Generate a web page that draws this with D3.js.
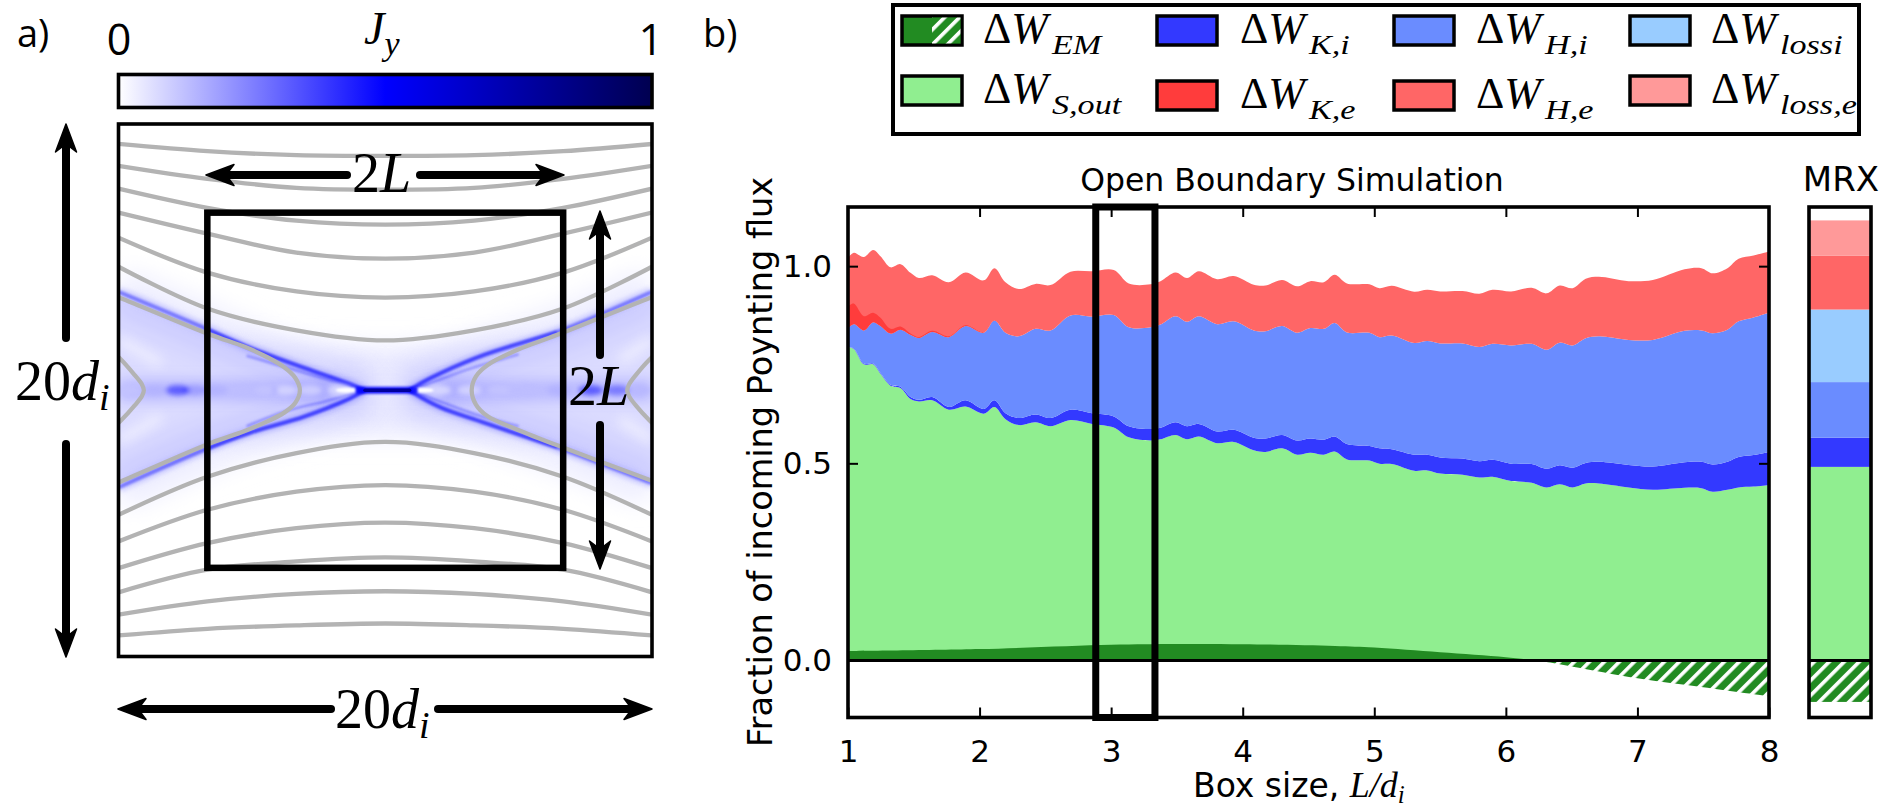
<!DOCTYPE html>
<html>
<head>
<meta charset="utf-8">
<script src="https://cdn.jsdelivr.net/npm/d3@7"></script>
<style>
  body { margin: 0; background: #fff; }
  text { fill: #000; }
  .sans { font-family: "DejaVu Sans"; }
  .label { font-family: "Open Sans"; }
  .math { font-family: "Liberation Serif"; }
</style>
</head>
<body>
<div id="chart"></div>
<script>
// ---- panel b data ----
// stacked boundaries, all on the same box sizes
var boxSize = [1.0,1.044,1.12,1.191,1.247,1.323,1.399,1.475,1.538,1.64,1.766,1.893,2.032,2.113,2.197,2.298,2.425,2.539,2.691,2.855,3.02,3.134,3.299,3.375,3.489,3.577,3.666,3.805,3.932,4.084,4.172,4.299,4.413,4.514,4.616,4.699,4.792,4.963,5.039,5.133,5.303,5.402,5.501,5.671,5.799,5.898,6.04,6.196,6.309,6.409,6.508,6.607,6.706,6.933,7.117,7.358,7.486,7.571,7.684,7.769,7.883,8.0];
var sOutTop = [0.795,0.79,0.751,0.751,0.727,0.697,0.691,0.663,0.657,0.66,0.636,0.644,0.626,0.643,0.612,0.597,0.604,0.594,0.61,0.6,0.591,0.566,0.558,0.561,0.572,0.561,0.568,0.551,0.554,0.533,0.529,0.538,0.522,0.527,0.522,0.53,0.51,0.507,0.499,0.498,0.481,0.482,0.474,0.471,0.464,0.466,0.455,0.451,0.439,0.447,0.439,0.449,0.449,0.439,0.433,0.438,0.437,0.428,0.433,0.439,0.441,0.445];
var kiTop = [0.795,0.791,0.753,0.753,0.729,0.699,0.694,0.668,0.661,0.668,0.643,0.66,0.638,0.66,0.627,0.615,0.624,0.615,0.636,0.627,0.619,0.594,0.587,0.59,0.604,0.594,0.6,0.581,0.585,0.565,0.563,0.572,0.558,0.563,0.56,0.568,0.549,0.544,0.538,0.536,0.522,0.522,0.515,0.512,0.505,0.509,0.499,0.498,0.486,0.495,0.489,0.501,0.504,0.496,0.492,0.503,0.504,0.497,0.504,0.516,0.521,0.529];
var hiTop = [0.843,0.853,0.837,0.858,0.848,0.829,0.839,0.826,0.818,0.833,0.82,0.848,0.831,0.862,0.831,0.822,0.841,0.837,0.875,0.872,0.876,0.845,0.845,0.852,0.873,0.859,0.873,0.853,0.86,0.837,0.835,0.848,0.831,0.843,0.841,0.856,0.832,0.831,0.82,0.824,0.805,0.81,0.804,0.804,0.795,0.803,0.799,0.803,0.788,0.806,0.799,0.817,0.822,0.813,0.813,0.836,0.837,0.83,0.839,0.86,0.87,0.882];
// ke only shows below L = 2.2
var keTop = [0.898,0.905,0.873,0.882,0.869,0.841,0.847,0.829,0.82,0.836,0.822,0.85,0.832,0.863,0.831];
var heTop = [1.021,1.034,1.023,1.041,1.025,0.997,1.005,0.983,0.97,0.977,0.959,0.984,0.964,0.995,0.959,0.942,0.955,0.952,0.986,0.987,0.99,0.956,0.954,0.962,0.984,0.97,0.987,0.967,0.975,0.953,0.951,0.965,0.949,0.962,0.959,0.978,0.956,0.954,0.944,0.95,0.935,0.94,0.936,0.937,0.93,0.94,0.936,0.945,0.931,0.951,0.944,0.968,0.973,0.962,0.965,0.992,0.995,0.982,0.995,1.019,1.027,1.037];

// EM part: positive up to L ~ 6.25, then negative (hatched)
var emPosL = [1,2,3,3.5,4,4.7,5,5.5,6,6.25];
var emPos = [0.024,0.029,0.04,0.042,0.0415,0.037,0.033,0.021,0.0085,0];
var emNegL = [6.25,6.5,7,7.5,8];
var emNeg = [0,-0.015,-0.045,-0.068,-0.091];

// MRX column, layer thicknesses bottom to top
var mrxNames = ["S,out","K,i","H,i","lossi","H,e","loss,e"];
var mrxValues = [0.491,0.074,0.141,0.184,0.137,0.089];
var mrxEm = -0.105;

// legend
var legendSubs = ["EM","S,out","K,i","K,e","H,i","H,e","lossi","loss,e"];
var xTicks = [1,2,3,4,5,6,7,8];
var yTicks = [0,0.5,1];
var boxHighlight = [2.883,3.333];

// ---- panel a data, in units of d_i ----
var fieldX = [-10,-6.67,-3.33,0,3.33,6.67,10];
var fieldLines = [
  [9.25,8.98,8.83,8.8,8.83,8.98,9.25],
  [8.43,7.94,7.6,7.53,7.6,7.94,8.43],
  [7.57,6.85,6.37,6.22,6.37,6.85,7.57],
  [6.67,5.88,5.17,4.94,5.17,5.88,6.67],
  [5.73,4.42,3.71,3.48,3.71,4.42,5.73],
  [4.64,3.07,2.25,1.87,2.25,3.07,4.64],
  [-4.68,-3.25,-2.36,-1.94,-2.36,-3.25,-4.68],
  [-5.68,-4.49,-3.81,-3.56,-3.81,-4.49,-5.68],
  [-6.68,-5.74,-5.18,-4.97,-5.18,-5.74,-6.68],
  [-7.59,-6.74,-6.43,-6.28,-6.43,-6.74,-7.59],
  [-8.43,-7.93,-7.65,-7.55,-7.65,-7.93,-8.43],
  [-9.21,-8.96,-8.83,-8.76,-8.83,-8.96,-9.21]
];
// closed-off field lines around the two islands
var islandLines = [
  [[-10.3,3.6],[-9.89,3.45],[-6.54,2.08],[-5.29,1.64],[-4.42,1.24],[-3.8,0.87],[-3.37,0.46],[-3.2,0],[-3.37,-0.47],[-3.8,-0.85],[-4.42,-1.17],[-5.29,-1.54],[-6.54,-1.98],[-9.89,-3.42],[-10.3,-3.6]],
  [[10.3,3.6],[9.87,3.45],[6.45,2.08],[4.96,1.52],[3.84,0.95],[3.4,0.52],[3.24,0],[3.4,-0.54],[3.84,-0.98],[4.96,-1.48],[6.45,-2.07],[9.87,-3.35],[10.3,-3.5]],
  [[-10.3,1.5],[-9.89,1.14],[-9.4,0.58],[-9.12,0.22],[-9.05,0],[-9.12,-0.22],[-9.4,-0.58],[-9.89,-1.12],[-10.3,-1.5]],
  [[10.3,1.5],[9.89,1.14],[9.4,0.58],[9.14,0.22],[9.07,0],[9.14,-0.22],[9.4,-0.58],[9.89,-1.12],[10.3,-1.5]]
];
// current sheet arms
var jyArms = [
  [[-10,3.7],[-6.77,2.34],[-5.06,1.59],[-3.04,0.84],[-1.44,0.28],[-0.76,0]],
  [[-10,-3.65],[-6.77,-2.23],[-5.06,-1.59],[-3.04,-0.99],[-1.44,-0.36],[-0.76,0]],
  [[10,3.7],[6.44,2.19],[3.71,1.33],[2.11,0.66],[1.36,0.28],[0.91,0]],
  [[10,-3.5],[6.44,-2.15],[3.71,-1.22],[2.11,-0.66],[1.36,-0.28],[0.91,0]]
];
var jyStrands = [
  [[-5.2,1.3],[-3.7,0.85],[-2.2,0.42],[-1.2,0.1]],
  [[-5.2,-1.35],[-3.7,-0.78],[-2.2,-0.4],[-1.2,-0.1]],
  [[5.0,1.35],[3.3,0.85],[2.0,0.38],[1.2,0.1]],
  [[5.0,-1.35],[3.3,-0.88],[2.0,-0.4],[1.2,-0.1]]
];
// lavender haze above and below the x-point
var jyHaze = [[-6.5,1.9],[-3,1.7],[0,1.6],[3,1.7],[6.5,1.9],[3,0],[6.5,-1.9],[3,-1.7],[0,-1.7],[-3,-1.7],[-6.5,-1.9],[-3,0]];
var jyCore = [-0.76,0.91];
var sheetX = [-9.65,-8.64,-7.78,-7.15,-6.36,-5.43,-4.5,-3.75,-2.82,-1.7,2.03,3.15,4.27,5.39,6.51,7.71,8.68,9.5];
var sheetJ = [0.12,0.15,0.32,0.19,0.15,0.13,0.12,0.09,0.1,0.08,0.08,0.09,0.12,0.13,0.15,0.32,0.26,0.14];
var jyDomain = [0,0.5,1];
var jyColors = ["#ffffff","#0000ff","#000050"];
var innerBox = 6.67;

var colors = {
  em: "#228b22", sOut: "#90ee90", ki: "#3339ff", ke: "#ff3c3c",
  hi: "#6a8cff", he: "#ff6666", lossi: "#99ccff", losse: "#ff9999"
};

// ---- svg ----
var svg = d3.select("#chart").append("svg")
  .attr("width", 1885)
  .attr("height", 807)
  .style("display", "block");

var defs = svg.append("defs");

// hatch for the negative EM part
var hatch = defs.append("pattern")
  .attr("id", "hatch")
  .attr("patternUnits", "userSpaceOnUse")
  .attr("width", 10.6)
  .attr("height", 10.6)
  .attr("patternTransform", "rotate(45)");
hatch.append("rect").attr("width", 10.6).attr("height", 10.6).attr("fill", colors.em);
hatch.append("rect").attr("width", 3.6).attr("height", 10.6).attr("fill", "#fff");

[["blur1", 1.1], ["blur2", 2.6], ["blur3", 6], ["blur4", 12]].forEach(function(b) {
  defs.append("filter").attr("id", b[0])
    .attr("filterUnits", "userSpaceOnUse")
    .attr("x", 60).attr("y", 60).attr("width", 660).attr("height", 660)
    .append("feGaussianBlur").attr("stdDeviation", b[1]);
});

var cbGrad = defs.append("linearGradient").attr("id", "jyGrad");
jyDomain.forEach(function(d, i) {
  cbGrad.append("stop").attr("offset", d).attr("stop-color", jyColors[i]);
});

defs.append("clipPath").attr("id", "clipA").append("rect")
  .attr("x", 118.5).attr("y", 124).attr("width", 533.5).attr("height", 532.5);

// ---- panel a ----
var ax = d3.scaleLinear().domain([-10, 10]).range([118.5, 652]);
var ay = d3.scaleLinear().domain([-10, 10]).range([656.5, 124]);
var jyColor = d3.scaleLinear().domain(jyDomain).range(jyColors);

var lineA = d3.line().x(function(d) { return ax(d[0]); }).y(function(d) { return ay(d[1]); });
var smoothA = d3.line().x(function(d) { return ax(d[0]); }).y(function(d) { return ay(d[1]); })
  .curve(d3.curveCatmullRom.alpha(0.5));

var panelA = svg.append("g");
var heat = panelA.append("g").attr("clip-path", "url(#clipA)");

heat.append("path").attr("d", lineA(jyHaze) + "Z")
  .attr("fill", jyColor(0.045))
  .attr("filter", "url(#blur4)");

// faint fan between the arms
var fanL = [[-10.5, 3.7], [-0.9, 0], [-10.5, -3.7]];
var fanR = [[10.5, 3.7], [0.9, 0], [10.5, -3.6]];
[fanL, fanR].forEach(function(f) {
  heat.append("path").attr("d", lineA(f) + "Z")
    .attr("fill", jyColor(0.07))
    .attr("filter", "url(#blur2)");
});
// white streaks in the outer part of the fan
[[[-10, 1.9], [-8.4, 1.0]], [[-10, -1.9], [-8.4, -1.0]], [[10, 1.9], [8.8, 1.1]], [[10, -1.9], [8.8, -1.1]]].forEach(function(s) {
  heat.append("path").attr("d", lineA(s)).attr("stroke", "#fff").attr("stroke-width", 10)
    .attr("fill", "none").attr("opacity", 0.5).attr("filter", "url(#blur3)");
});

// haze, glow and core of the arms
var armStyle = [
  { w: 46, j: 0.035, f: "blur4", from: 0 },
  { w: 10, j: 0.08, f: "blur2", from: 0 },
  { w: 3.8, j: 0.2, f: "blur1", from: 0 },
  { w: 3.4, j: 0.22, f: "blur1", from: 1 }
];
armStyle.forEach(function(a) {
  jyArms.forEach(function(pts) {
    heat.append("path").attr("d", smoothA(pts.slice(a.from)))
      .attr("fill", "none")
      .attr("stroke", jyColor(a.j))
      .attr("stroke-width", a.w)
      .attr("filter", "url(#" + a.f + ")")
      .style("mix-blend-mode", "multiply");
  });
});
jyStrands.forEach(function(pts) {
  heat.append("path").attr("d", smoothA(pts))
    .attr("fill", "none").attr("stroke", jyColor(0.14)).attr("stroke-width", 2.6)
    .attr("filter", "url(#blur1)").style("mix-blend-mode", "multiply");
});

// midplane band, then blobs along it
[[-10, -2], [2, 10]].forEach(function(s) {
  heat.append("path").attr("d", lineA([[s[0], 0], [s[1], 0]]))
    .attr("stroke", jyColor(0.07)).attr("stroke-width", 22)
    .attr("filter", "url(#blur3)").style("mix-blend-mode", "multiply");
});
heat.append("g").attr("filter", "url(#blur2)").selectAll("ellipse")
  .data(sheetX)
  .join("ellipse")
  .attr("cx", function(d) { return ax(d); })
  .attr("cy", ay(0))
  .attr("rx", 12)
  .attr("ry", 5)
  .attr("fill", function(d, i) { return jyColor(sheetJ[i]); })
  .style("mix-blend-mode", "multiply");

// white gaps either side of the core
[-1.44, 1.4].forEach(function(x) {
  heat.append("ellipse").attr("cx", ax(x)).attr("cy", ay(0))
    .attr("rx", 11).attr("ry", 2.4).attr("fill", "#fff").attr("filter", "url(#blur1)");
});
// central layer
heat.append("path").attr("d", lineA([[jyCore[0] - 0.35, 0], [jyCore[1] + 0.3, 0]]))
  .attr("stroke", jyColor(0.45)).attr("stroke-width", 7).attr("filter", "url(#blur1)")
  .style("mix-blend-mode", "multiply");
heat.append("path").attr("d", lineA([[jyCore[0], 0], [jyCore[1], 0]]))
  .attr("stroke", jyColor(0.78)).attr("stroke-width", 3.5).attr("stroke-linecap", "round");

// field lines
var fieldG = panelA.append("g").attr("clip-path", "url(#clipA)")
  .attr("fill", "none").attr("stroke", "#b3b3b3").attr("stroke-width", 4.3);
fieldLines.forEach(function(vals) {
  fieldG.append("path").attr("d", smoothA(vals.map(function(v, i) { return [fieldX[i], v]; })));
});
islandLines.forEach(function(pts) {
  fieldG.append("path").attr("d", smoothA(pts));
});

// frame, inner box
panelA.append("rect")
  .attr("x", ax(-10)).attr("y", ay(10)).attr("width", ax(10) - ax(-10)).attr("height", ay(-10) - ay(10))
  .attr("fill", "none").attr("stroke", "#000").attr("stroke-width", 3.6);
panelA.append("rect")
  .attr("x", ax(-innerBox)).attr("y", ay(innerBox))
  .attr("width", ax(innerBox) - ax(-innerBox)).attr("height", ay(-innerBox) - ay(innerBox))
  .attr("fill", "none").attr("stroke", "#000").attr("stroke-width", 6.5);

// colorbar
panelA.append("rect").attr("x", 118.5).attr("y", 74.5).attr("width", 533.5).attr("height", 33)
  .attr("fill", "url(#jyGrad)").attr("stroke", "#000").attr("stroke-width", 3.6);

// arrows: shaft plus a barbed head at the far end
function arrow(x1, y1, x2, y2) {
  var len = Math.hypot(x2 - x1, y2 - y1);
  var angle = Math.atan2(y2 - y1, x2 - x1) * 180 / Math.PI;
  var g = panelA.append("g").attr("transform", "translate(" + x1 + "," + y1 + ") rotate(" + angle + ")");
  g.append("line").attr("x1", 0).attr("y1", 0).attr("x2", len - 12).attr("y2", 0)
    .attr("stroke", "#000").attr("stroke-width", 8).attr("stroke-linecap", "round");
  g.append("path")
    .attr("d", "M" + len + ",0 L" + (len - 28) + ",-10.5 L" + (len - 20) + ",0 L" + (len - 28) + ",10.5 Z")
    .attr("fill", "#000").attr("stroke", "#000").attr("stroke-width", 1.5).attr("stroke-linejoin", "round");
}
arrow(66, 338, 66, 124);
arrow(66, 444, 66, 657);
arrow(600, 355, 600, 211);
arrow(600, 425, 600, 569);
arrow(347, 175, 206, 175);
arrow(420, 175, 564, 175);
arrow(331, 709, 118, 709);
arrow(438, 709, 652, 709);

function mathLabel(x, y, size) {
  return panelA.append("text").attr("class", "math").attr("x", x).attr("y", y).attr("font-size", size);
}
var t;
t = mathLabel(15, 400, 56);
t.append("tspan").text("20");
t.append("tspan").attr("font-style", "italic").text("d");
t.append("tspan").attr("font-style", "italic").attr("font-size", 38).attr("dy", 10).text("i");
t = mathLabel(335, 728, 56);
t.append("tspan").text("20");
t.append("tspan").attr("font-style", "italic").text("d");
t.append("tspan").attr("font-style", "italic").attr("font-size", 38).attr("dy", 10).text("i");
t = mathLabel(352, 192, 56);
t.append("tspan").text("2");
t.append("tspan").attr("font-style", "italic").text("L");
t = mathLabel(568, 405, 58);
t.append("tspan").text("2");
t.append("tspan").attr("font-style", "italic").text("L");
t = mathLabel(364, 44, 46);
t.append("tspan").attr("font-style", "italic").text("J");
t.append("tspan").attr("font-style", "italic").attr("font-size", 34).attr("dy", 11).text("y");

panelA.append("text").attr("class", "label").attr("x", 17).attr("y", 47).attr("font-size", 38).text("a)");
panelA.append("text").attr("class", "label").attr("x", 119).attr("y", 55).attr("font-size", 43)
  .attr("text-anchor", "middle").text("0");
panelA.append("text").attr("class", "label").attr("x", 663).attr("y", 55).attr("font-size", 43)
  .attr("text-anchor", "end").text("1");
panelA.append("text").attr("class", "label").attr("x", 703).attr("y", 47).attr("font-size", 38).text("b)");

// ---- panel b ----
var x = d3.scaleLinear().domain([1, 8]).range([848, 1769]);
var y = d3.scaleLinear().domain([-0.1445, 1.15]).range([717.5, 207]);
var panelB = svg.append("g");

function band(lo, hi, color, xs) {
  var area = d3.area()
    .x(function(d, i) { return x(xs[i]); })
    .y0(function(d, i) { return y(lo[i]); })
    .y1(function(d, i) { return y(hi[i]); })
    .curve(d3.curveCatmullRom.alpha(0.5));
  panelB.append("path").attr("d", area(xs)).attr("fill", color);
}
var zeros = boxSize.map(function() { return 0; });
band(zeros, sOutTop, colors.sOut, boxSize);
band(sOutTop, kiTop, colors.ki, boxSize);
band(kiTop, hiTop, colors.hi, boxSize);
band(hiTop, heTop, colors.he, boxSize);
band(hiTop.slice(0, keTop.length), keTop, colors.ke, boxSize.slice(0, keTop.length));
band(emPos.map(function() { return 0; }), emPos, colors.em, emPosL);
band(emNeg.map(function() { return 0; }), emNeg, "url(#hatch)", emNegL);

// zero line, frame
panelB.append("line").attr("x1", x(1)).attr("x2", x(8)).attr("y1", y(0)).attr("y2", y(0))
  .attr("stroke", "#000").attr("stroke-width", 3);
panelB.append("rect").attr("x", x(1)).attr("y", y(1.15))
  .attr("width", x(8) - x(1)).attr("height", y(-0.1445) - y(1.15))
  .attr("fill", "none").attr("stroke", "#000").attr("stroke-width", 3.6);

// ticks point inwards, on both sides
var xAxisBottom = d3.axisBottom(x).tickValues(xTicks).tickSize(-10).tickPadding(22).tickFormat(d3.format("d"));
var xAxisTop = d3.axisTop(x).tickValues(xTicks.slice(1, -1)).tickSize(-10).tickFormat("");
var yAxisLeft = d3.axisLeft(y).tickValues(yTicks).tickSize(-10).tickPadding(16).tickFormat(d3.format(".1f"));
var yAxisRight = d3.axisRight(y).tickValues(yTicks).tickSize(-10).tickFormat("");

function styleAxis(g) {
  g.select(".domain").remove();
  g.selectAll(".tick line").attr("stroke", "#000").attr("stroke-width", 2);
  g.selectAll(".tick text").attr("class", "sans").attr("font-size", 31).attr("fill", "#000")
    .attr("font-family", "DejaVu Sans");
}
panelB.append("g").attr("transform", "translate(0," + y(-0.1445) + ")").call(xAxisBottom).call(styleAxis);
panelB.append("g").attr("transform", "translate(0," + y(1.15) + ")").call(xAxisTop).call(styleAxis);
panelB.append("g").attr("transform", "translate(" + x(1) + ",0)").call(yAxisLeft).call(styleAxis);
panelB.append("g").attr("transform", "translate(" + x(8) + ",0)").call(yAxisRight).call(styleAxis);

// highlighted box sizes
panelB.append("rect")
  .attr("x", x(boxHighlight[0])).attr("y", y(1.15))
  .attr("width", x(boxHighlight[1]) - x(boxHighlight[0])).attr("height", y(-0.1445) - y(1.15))
  .attr("fill", "none").attr("stroke", "#000").attr("stroke-width", 7);

panelB.append("text").attr("class", "sans").attr("x", 1292).attr("y", 191).attr("font-size", 31.5)
  .attr("text-anchor", "middle").text("Open Boundary Simulation");
panelB.append("text").attr("class", "sans").attr("font-size", 33.5).attr("text-anchor", "middle")
  .attr("transform", "translate(772,462) rotate(-90)")
  .text("Fraction of incoming Poynting flux");
var xl = panelB.append("text").attr("class", "sans").attr("x", 1193).attr("y", 797).attr("font-size", 33);
xl.append("tspan").text("Box size, ");
xl.append("tspan").attr("font-family", "Liberation Serif").attr("font-style", "italic").attr("font-size", 36).text("L/d");
xl.append("tspan").attr("font-family", "Liberation Serif").attr("font-style", "italic").attr("font-size", 25).attr("dy", 6).text("i");

// ---- MRX column ----
var mrxColors = [colors.sOut, colors.ki, colors.hi, colors.lossi, colors.he, colors.losse];
var mrxTops = Array.from(d3.cumsum(mrxValues));
var mrxX = 1809, mrxW = 62;
panelB.selectAll(".mrx").data(mrxValues).join("rect")
  .attr("class", "mrx")
  .attr("x", mrxX)
  .attr("width", mrxW)
  .attr("y", function(d, i) { return y(mrxTops[i]); })
  .attr("height", function(d) { return y(0) - y(d); })
  .attr("fill", function(d, i) { return mrxColors[i]; });
panelB.append("rect").attr("x", mrxX).attr("width", mrxW).attr("y", y(0)).attr("height", y(mrxEm) - y(0))
  .attr("fill", "url(#hatch)");
panelB.append("line").attr("x1", mrxX).attr("x2", mrxX + mrxW).attr("y1", y(0)).attr("y2", y(0))
  .attr("stroke", "#000").attr("stroke-width", 3);
panelB.append("rect").attr("x", mrxX).attr("y", y(1.15)).attr("width", mrxW).attr("height", y(-0.1445) - y(1.15))
  .attr("fill", "none").attr("stroke", "#000").attr("stroke-width", 3.6);
panelB.append("text").attr("class", "sans").attr("x", 1841).attr("y", 191).attr("font-size", 34)
  .attr("text-anchor", "middle").text("MRX");

// ---- legend ----
var legend = svg.append("g");
legend.append("rect").attr("x", 893).attr("y", 5).attr("width", 966).attr("height", 129)
  .attr("fill", "#fff").attr("stroke", "#000").attr("stroke-width", 4);

var legendFill = [colors.em, colors.sOut, colors.ki, colors.ke, colors.hi, colors.he, colors.lossi, colors.losse];
var swatchX = [902, 902, 1157, 1157, 1394, 1394, 1630, 1630];
var swatchY = [16, 76, 16, 81, 16, 81, 16, 76];
var labelX = [983, 983, 1240, 1240, 1476, 1476, 1711, 1711];
var baseY = [43, 103, 43, 108, 43, 108, 43, 103];

legendSubs.forEach(function(sub, i) {
  legend.append("rect").attr("x", swatchX[i]).attr("y", swatchY[i]).attr("width", 60).attr("height", 29)
    .attr("fill", legendFill[i]).attr("stroke", "#000").attr("stroke-width", 3.5);
  if (i === 0) {
    legend.append("rect").attr("x", swatchX[i] + 30).attr("y", swatchY[i] + 1.5).attr("width", 28.5).attr("height", 26)
      .attr("fill", "url(#hatch)");
  }
  var txt = legend.append("text").attr("class", "math").attr("x", labelX[i]).attr("y", baseY[i]).attr("font-size", 44);
  txt.append("tspan").text("Δ");
  txt.append("tspan").attr("font-style", "italic").text("W");
  // subscript is wider than the serif here, so stretch it a little
  legend.append("text").attr("class", "math").attr("font-style", "italic").attr("font-size", 28)
    .attr("transform", "translate(" + (labelX[i] + 69) + "," + (baseY[i] + 11) + ") scale(1.22,1)")
    .text(sub);
});
</script>
</body>
</html>
